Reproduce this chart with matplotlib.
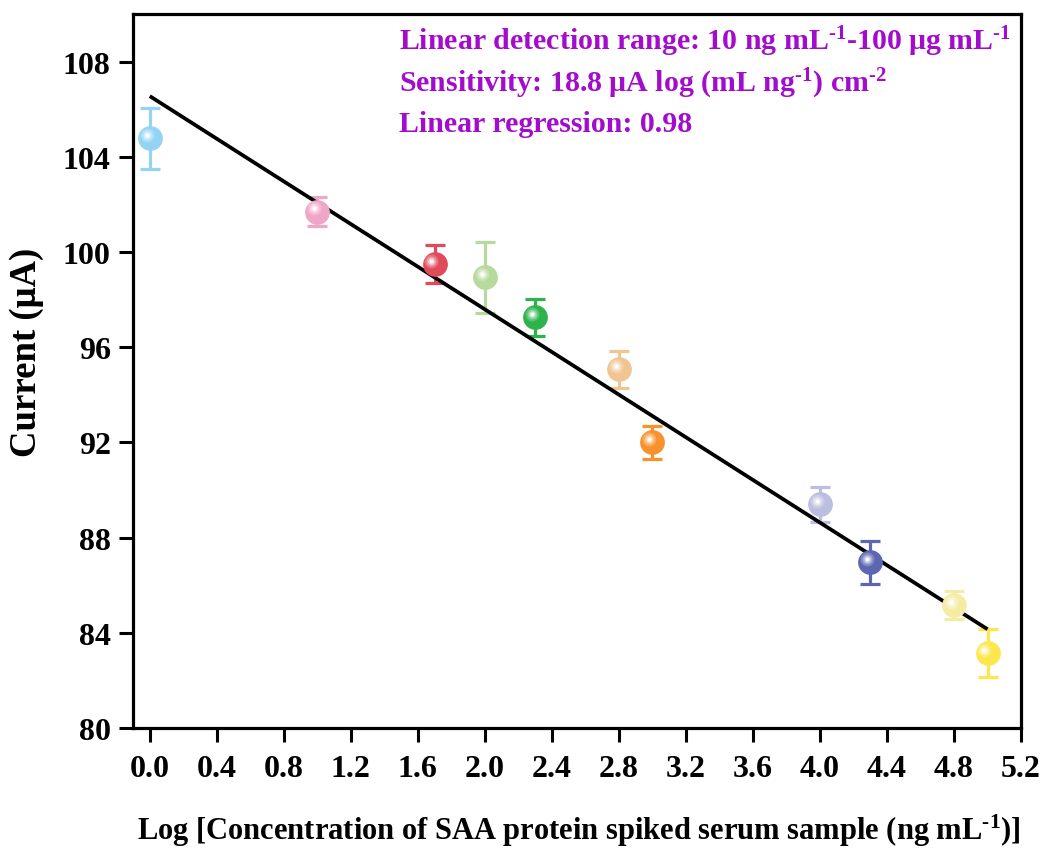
import matplotlib
matplotlib.use("Agg")
import matplotlib.pyplot as plt
import matplotlib.transforms as mtransforms
import numpy as np

# ---- data ----
log_conc = [0.0, 1.0, 1.7, 2.0, 2.3, 2.8, 3.0, 4.0, 4.3, 4.8, 5.0]
current = [104.77, 101.7, 99.5, 98.93, 97.25, 95.07, 92.0, 89.4, 86.97, 85.16, 83.15]
err = [1.3, 0.6, 0.8, 1.5, 0.77, 0.77, 0.7, 0.73, 0.9, 0.58, 1.0]
colors = ["#93d4f5", "#f0a6c6", "#e04b5c", "#b6d99c", "#2eb34c", "#f0c592",
          "#f7922c", "#bcbee0", "#5c66b2", "#f5eca4", "#fde74d"]
fit_slope = -4.48
fit_intercept = 106.55
fit_x = [0.0, 5.0]
xticks = [0.0, 0.4, 0.8, 1.2, 1.6, 2.0, 2.4, 2.8, 3.2, 3.6, 4.0, 4.4, 4.8, 5.2]
yticks = [80, 84, 88, 92, 96, 100, 104, 108]
annot = [r"Linear detection range: 10 ng mL$^{\text{-1}}$-100 μg mL$^{\text{-1}}$",
         r"Sensitivity: 18.8 μA log (mL ng$^{\text{-1}}$) cm$^{\text{-2}}$",
         "Linear regression: 0.98"]

plt.rcParams['font.family'] = ['Liberation Serif', 'DejaVu Serif']
plt.rcParams['font.weight'] = 'bold'
plt.rcParams['mathtext.fontset'] = 'custom'
plt.rcParams['mathtext.rm'] = 'Liberation Serif:bold'
plt.rcParams['mathtext.bf'] = 'Liberation Serif:bold'
plt.rcParams['mathtext.it'] = 'Liberation Serif:bold:italic'
plt.rcParams['mathtext.default'] = 'rm'

fig = plt.figure(figsize=(10.5, 8.53), dpi=100)
ax = fig.add_axes([0.1267, 0.1454, 0.8457, 0.837])

# fitted line
fx = np.array(fit_x)
ax.plot(fx, fit_slope * fx + fit_intercept, color='black', lw=2.7, zorder=4,
        solid_capstyle='butt')

# points with error bars and sphere-like markers
for xi, yi, ei, c in zip(log_conc, current, err, colors):
    ax.errorbar([xi], [yi], yerr=[ei], fmt='none', ecolor=c, elinewidth=2.3,
                capsize=7, capthick=2.3, zorder=3)
    ax.plot([xi], [yi], 'o', ms=16.8, color=c, mec=c, zorder=5)
    for k, (ms, a) in enumerate([(10, 0.22), (7, 0.32), (4.5, 0.55), (2.4, 0.9)]):
        tr = mtransforms.offset_copy(ax.transData, fig=fig, x=-2.3, y=2.3, units='points')
        ax.plot([xi], [yi], 'o', ms=ms, color='white', mec='none', alpha=a,
                transform=tr, zorder=6 + k)

ax.set_xlim(-0.1, 5.2)
ax.set_ylim(80, 110)
ax.set_xticks(xticks)
ax.set_xticklabels([f"{v:.1f}" for v in xticks])
ax.set_yticks(yticks)
ax.set_yticklabels([str(v) for v in yticks])

for s in ax.spines.values():
    s.set_linewidth(2.3)
ax.tick_params(axis='both', direction='out', length=10, width=2.2, labelsize=23)
ax.tick_params(axis='x', pad=9)
ax.tick_params(axis='y', pad=6)
for lab in ax.get_xticklabels() + ax.get_yticklabels():
    lab.set_fontweight('bold')

ax.set_xlabel(r"Log [Concentration of SAA protein spiked serum sample (ng mL$^{\text{-1}}$)]",
              fontsize=22, fontweight='bold')
ax.xaxis.set_label_coords(0.502, -0.118)
ax.set_ylabel("Current (μA)", fontsize=26.5, fontweight='bold')
ax.yaxis.set_label_coords(-0.100, 0.527)

purple = "#a30ccc"
for t, yy in zip(annot, [0.963, 0.903, 0.846]):
    ax.text(0.300, yy, t, transform=ax.transAxes, fontsize=21.5, color=purple,
            fontweight='bold', ha='left', va='center')

fig.savefig("out.png", dpi=100)
